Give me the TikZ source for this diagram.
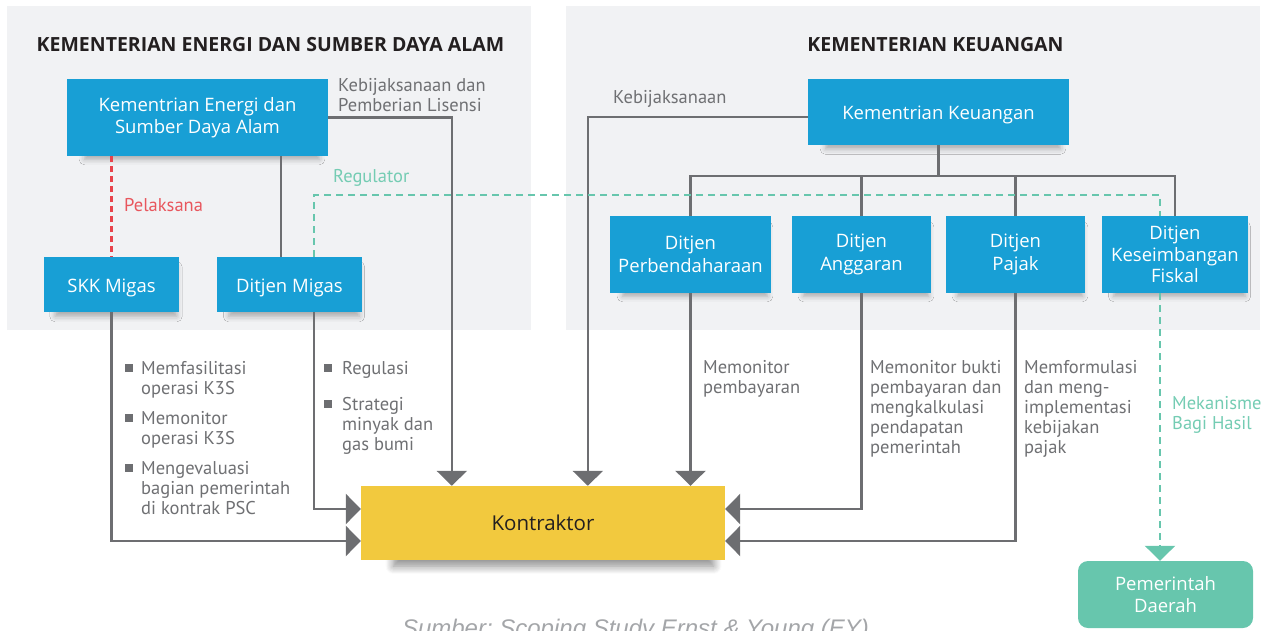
\documentclass[tikz,border=0pt]{standalone}
\usepackage{fontspec}
\setmainfont{Open Sans}
\newfontfamily\notefont{PT Sans}
\newfontfamily\sourcefont{Liberation Sans}
\usetikzlibrary{arrows.meta,calc,shadows.blur}

\definecolor{panelgray}{HTML}{F1F2F4}
\definecolor{boxblue}{HTML}{189FD5}
\definecolor{linegray}{HTML}{6D6E71}
\definecolor{notegray}{HTML}{6F7073}
\definecolor{kuning}{HTML}{F2C93E}
\definecolor{hijau}{HTML}{67C6AD}
\definecolor{hijauteks}{HTML}{74CCB3}
\definecolor{merah}{HTML}{E8434B}
\definecolor{merahteks}{HTML}{E8565D}
\definecolor{hitam}{HTML}{231F20}
\definecolor{sumbergray}{HTML}{A4A6A9}

\newcommand{\kotak}{\textcolor{linegray}{\rule[2pt]{8pt}{8pt}}}

\begin{document}
\begin{tikzpicture}[x=1pt,y=-1pt,
    kotakbiru/.style={fill=boxblue, text=white, align=center, inner sep=0pt,
      font=\fontsize{18.5}{22.5}\selectfont,
      blur shadow={shadow xshift=5pt, shadow yshift=-8pt, shadow scale=0.9, shadow blur radius=6pt, shadow opacity=30}},
    satubaris/.style={text height=15pt, text depth=0pt},
    kepala/.style={text=hitam, inner sep=0pt, font=\bfseries\fontsize{19.5}{22}\selectfont},
    catatan/.style={text=notegray, align=left, inner sep=0pt, font=\notefont\fontsize{18.5}{20}\selectfont},
    daftar/.style={text=notegray, inner sep=0pt, font=\notefont\fontsize{18.5}{20}\selectfont},
    conn/.style={draw=linegray, line width=2.5pt},
    panah/.style={-{Triangle[width=30pt,length=15pt]}},
    putus/.style={line width=2.5pt, dash pattern=on 7pt off 5pt}]
\clip (0,0) rectangle (1275,630);

% latar
\fill[panelgray] (7,6) rectangle (531,330);
\fill[panelgray] (566,6) rectangle (1260,330);
\node[kepala] (t1) at (270.5,45) {KEMENTERIAN ENERGI DAN SUMBER DAYA ALAM};
\node[kepala] (t2) at (935.5,45) {KEMENTERIAN KEUANGAN};

% ESDM
\node[kotakbiru, minimum width=261pt, minimum height=77pt] (kesdm) at (197.5,117.5) {Kementrian Energi dan\\Sumber Daya Alam};
\node[kotakbiru, satubaris, minimum width=135pt, minimum height=55pt] (skk) at (111.5,284.5) {SKK Migas};
\node[kotakbiru, satubaris, minimum width=145pt, minimum height=55pt] (djmigas) at (289.5,284.5) {Ditjen Migas};

% Keuangan
\node[kotakbiru, satubaris, minimum width=261pt, minimum height=66pt] (kemenkeu) at (938.5,112) {Kementrian Keuangan};
\node[kotakbiru, minimum width=161pt, minimum height=77pt] (djpb) at (690.5,254.5) {Ditjen\\Perbendaharaan};
\node[kotakbiru, minimum width=139pt, minimum height=77pt] (djag) at (861.5,254.5) {Ditjen\\Anggaran};
\node[kotakbiru, minimum width=139pt, minimum height=77pt] (djpajak) at (1015.5,254.5) {Ditjen\\Pajak};
\node[kotakbiru, minimum width=146pt, minimum height=77pt, font=\fontsize{18.5}{21.5}\selectfont] (djkf) at (1175,254.5) {Ditjen\\Keseimbangan\\Fiskal};

% bawah
\node[kotakbiru, fill=kuning, text=hitam, minimum width=364pt, minimum height=74pt, font=\fontsize{20.5}{24}\selectfont,
  blur shadow={shadow xshift=12pt, shadow yshift=-12pt, shadow scale=0.88, shadow blur radius=9pt, shadow blur steps=8, shadow opacity=25}] (kontraktor) at (543,523) {Kontraktor};
\node[fill=hijau, text=white, align=center, inner sep=0pt, rounded corners=10pt, minimum width=175pt, minimum height=67pt, font=\fontsize{18.5}{22}\selectfont] (pemda) at (1165.5,594.5) {Pemerintah\\Daerah};

% garis ESDM
\draw[conn, panah] (kesdm.east) -| ($(kontraktor.north west)+(91,0)$);
\draw[conn] ($(kesdm.south)+(83.5,0)$) coordinate (k1) -- (k1 |- djmigas.north);
\draw[conn, panah] (skk.south) |- ($(kontraktor.west)+(0,18)$);
\draw[conn, panah] ($(djmigas.south)+(24.5,0)$) |- ($(kontraktor.west)+(0,-14)$);
\draw[merah, putus, dash pattern=on 6pt off 4pt] (kesdm.south -| skk.north) -- (skk.north);

% garis Keuangan
\draw[conn] (kemenkeu.south) -- ++(0,31) coordinate (bus);
\draw[conn] (djpb.north) |- (bus) -| (djkf.north);
\draw[conn] (djag.north) -- (djag.north |- bus);
\draw[conn] (djpajak.north) -- (djpajak.north |- bus);
\draw[conn, panah] ($(kemenkeu.west)+(0,5)$) -| ($(kontraktor.north west)+(227,0)$);
\draw[conn, panah] (djpb.south) -- (djpb.south |- kontraktor.north);
\draw[conn, panah] (djag.south) |- ($(kontraktor.east)+(0,-14)$);
\draw[conn, panah] (djpajak.south) |- ($(kontraktor.east)+(0,18)$);

% regulator & bagi hasil
\draw[hijau, putus] ($(djmigas.north)+(24.5,0)$) -- ++(0,-62) -| ($(djkf.north)+(-15,0)$);
\draw[hijau, putus, panah] ($(djkf.south)+(-15,0)$) coordinate (k2) -- (k2 |- pemda.north);

% keterangan
\node[catatan, anchor=north west] (lisensi) at (338,78) {Kebijaksanaan dan\\Pemberian Lisensi};
\node[catatan, anchor=north west] (kebijakan) at (613,90) {Kebijaksanaan};
\node[catatan, anchor=north west, text=merahteks] (pelaksana) at (124,198) {Pelaksana};
\node[catatan, anchor=north west, text=hijauteks] (regulator) at (333,169) {Regulator};
\node[daftar, anchor=north west] (tugasskk) at (125,360) {\begin{tabular}[t]{@{}l@{\hspace{8pt}}l@{}}
  \kotak & Memfasilitasi\\ & operasi K3S\\[10pt]
  \kotak & Memonitor\\ & operasi K3S\\[10pt]
  \kotak & Mengevaluasi\\ & bagian pemerintah\\ & di kontrak PSC
  \end{tabular}};
\node[daftar, anchor=north west] (tugasmigas) at (324,360) {\begin{tabular}[t]{@{}l@{\hspace{10pt}}l@{}}
  \kotak & Regulasi\\[16pt]
  \kotak & Strategi\\ & minyak dan\\ & gas bumi
  \end{tabular}};
\node[catatan, anchor=north west] (monbayar) at (703,360) {Memonitor\\pembayaran};
\node[catatan, anchor=north west] (monbukti) at (870,360) {Memonitor bukti\\pembayaran dan\\mengkalkulasi\\pendapatan\\pemerintah};
\node[catatan, anchor=north west] (formulasi) at (1024,360) {Memformulasi\\dan meng-\\implementasi\\kebijakan\\pajak};
\node[catatan, anchor=north west, text=hijauteks] (bagihasil) at (1172,396) {Mekanisme\\Bagi Hasil};

\node[anchor=base, inner sep=0pt, text=sumbergray, font=\sourcefont\itshape\fontsize{24}{28}\selectfont] (sumber) at (635.5,636) {\frenchspacing Sumber: Scoping Study Ernst \& Young (EY)};
\end{tikzpicture}
\end{document}
